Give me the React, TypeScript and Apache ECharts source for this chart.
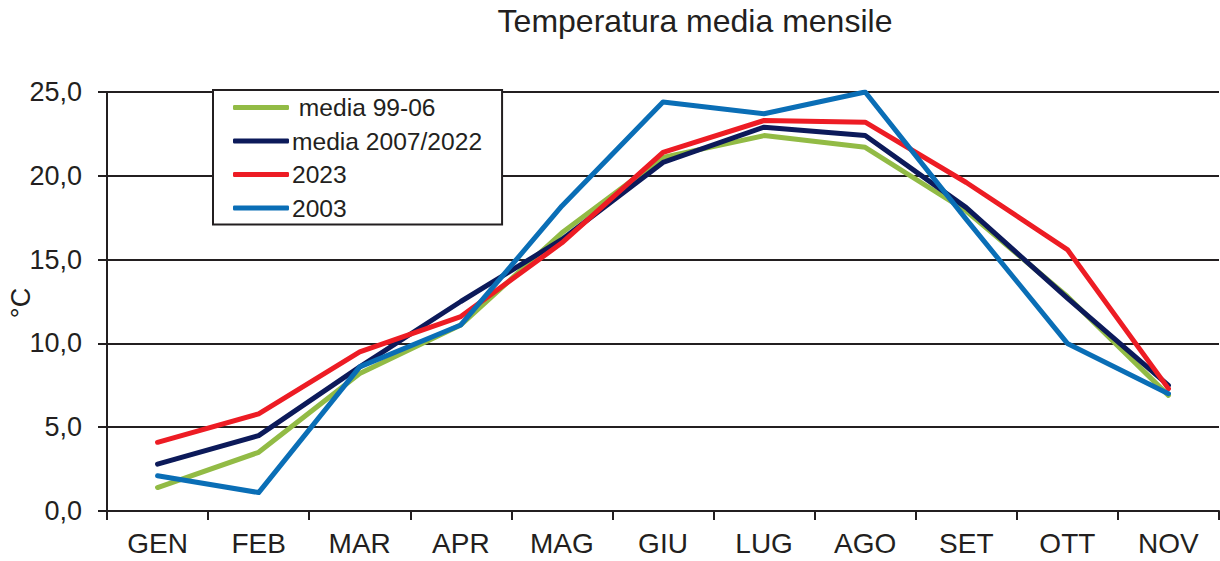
import React, { useEffect, useRef } from "react";
import * as echarts from "echarts";

const months = ["GEN", "FEB", "MAR", "APR", "MAG", "GIU", "LUG", "AGO", "SET", "OTT", "NOV"];
const media9906 = [1.4, 3.5, 8.2, 11.1, 16.6, 21.1, 22.4, 21.7, 17.9, 12.8, 6.9];
const media0722 = [2.8, 4.5, 8.6, 12.5, 16.2, 20.8, 22.9, 22.4, 18.1, 12.7, 7.5];
const y2023 = [4.1, 5.8, 9.5, 11.6, 16.0, 21.4, 23.3, 23.2, 19.6, 15.6, 7.3];
const y2003 = [2.1, 1.1, 8.6, 11.1, 18.2, 24.4, 23.7, 25.0, 17.4, 10.0, 7.0];
const seriesNames = ["media 99-06", "media 2007/2022", "2023", "2003"];
const seriesColors = ["#92bb45", "#0c1a5a", "#ed1c24", "#0a6eb6"];
const yTicks = [0, 5, 10, 15, 20, 25];

const FONT = "'Liberation Sans', Arial, Helvetica, sans-serif";
const INK = "#231f20";

export default function App() {
  const ref = useRef<HTMLDivElement>(null);
  useEffect(() => {
    if (!ref.current) return;
    const chart = echarts.init(ref.current, undefined, { renderer: "svg" });
    const dataSets = [media9906, media0722, y2023, y2003];
    chart.setOption({
      animation: false,
      backgroundColor: "#ffffff",
      textStyle: { fontFamily: FONT },
      graphic: [
        {
          type: "text",
          x: 695,
          y: 5,
          style: {
            text: "Temperatura media mensile",
            fontFamily: FONT,
            fontSize: 32,
            fill: INK,
            textAlign: "center",
            textVerticalAlign: "top",
          },
        },
        {
          type: "text",
          x: 21,
          y: 303,
          rotation: Math.PI / 2,
          style: {
            text: "°C",
            fontFamily: FONT,
            fontSize: 27,
            fill: INK,
            textAlign: "center",
            textVerticalAlign: "middle",
          },
        },
      ],
      grid: {
        left: 107,
        right: 1,
        top: 92,
        bottom: 50,
        containLabel: false,
        outerBoundsMode: "none",
      },
      legend: {
        orient: "vertical",
        left: 213,
        top: 90,
        data: seriesNames,
        icon: "roundRect",
        itemWidth: 56,
        itemHeight: 5,
        itemGap: 8.5,
        padding: [5, 20, 4, 20],
        backgroundColor: "#ffffff",
        borderColor: INK,
        borderWidth: 2,
        borderRadius: 0,
        formatter: (name: string) => (name === "media 99-06" ? " " + name : name),
        textStyle: { fontFamily: FONT, fontSize: 24.6, color: INK, padding: [0, 0, 0, -2] },
      },
      xAxis: {
        type: "category",
        data: months,
        boundaryGap: true,
        axisLine: { lineStyle: { color: INK, width: 2 } },
        axisTick: { show: true, length: 9, lineStyle: { color: INK, width: 2 } },
        axisLabel: { fontFamily: FONT, fontSize: 28, color: INK, margin: 18 },
        splitLine: { show: false },
      },
      yAxis: {
        type: "value",
        min: yTicks[0],
        max: yTicks[yTicks.length - 1],
        interval: 5,
        axisLine: { show: true, lineStyle: { color: INK, width: 2 } },
        axisTick: { show: true, length: 9, lineStyle: { color: INK, width: 2 } },
        axisLabel: {
          fontFamily: FONT,
          fontSize: 27,
          color: INK,
          margin: 25,
          formatter: (v: number) => v.toFixed(1).replace(".", ","),
        },
        splitLine: { show: true, lineStyle: { color: INK, width: 2 } },
      },
      series: seriesNames.map((name, i) => ({
        name,
        type: "line",
        data: dataSets[i],
        color: seriesColors[i],
        showSymbol: false,
        symbol: "none",
        lineStyle: { width: 5, color: seriesColors[i], cap: "round", join: "round" },
        z: 2 + i,
      })),
    });
    return () => chart.dispose();
  }, []);
  return (
    <div
      ref={ref}
      style={{ position: "absolute", left: 0, top: 0, width: 1220, height: 561 }}
    />
  );
}
